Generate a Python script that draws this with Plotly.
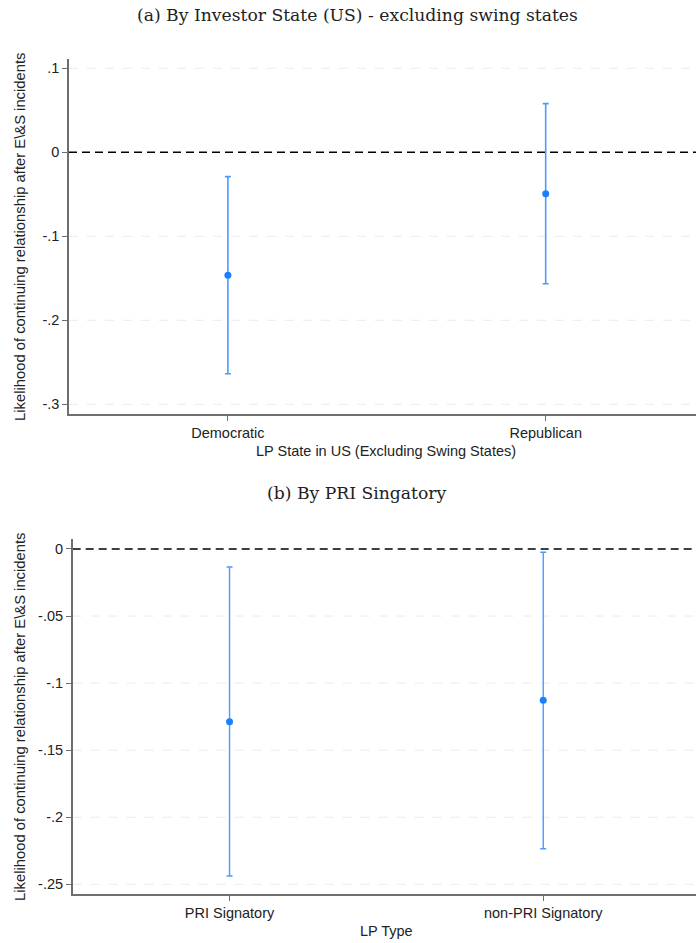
import plotly.graph_objects as go

# ---- Data ----
state_cats = ["Democratic", "Republican"]
state_est = [-0.1464, -0.0493]
state_hi = [-0.0290, 0.0579]
state_lo = [-0.2636, -0.1564]
state_ticks = [0.1, 0.0, -0.1, -0.2, -0.3]
state_ticklabels = [".1", "0", "-.1", "-.2", "-.3"]

pri_cats = ["PRI Signatory", "non-PRI Signatory"]
pri_est = [-0.1288, -0.1128]
pri_hi = [-0.0134, -0.0025]
pri_lo = [-0.2438, -0.2235]
pri_ticks = [0.0, -0.05, -0.10, -0.15, -0.20, -0.25]
pri_ticklabels = ["0", "-.05", "-.1", "-.15", "-.2", "-.25"]

title_a = "(a) By Investor State (US) - excluding swing states"
title_b = "(b) By PRI Singatory"
xtitle_a = "LP State in US (Excluding Swing States)"
xtitle_b = "LP Type"
ytitle = "Likelihood of continuing relationship after E\\&S incidents"

W, H = 696, 943
MARK = "#1a80ff"
BAR = "#4a9bff"
AX = "#6e6e6e"
SANS = "Liberation Sans, Arial, sans-serif"
SERIF = "DejaVu Serif, Liberation Serif, serif"

def px(x):
    return x / W

def py(y):
    return 1 - y / H

fig = go.Figure()

fig.add_trace(go.Scatter(
    x=state_cats, y=state_est, mode="markers",
    marker=dict(color=MARK, size=7),
    error_y=dict(type="data", symmetric=False,
                 array=[h - e for h, e in zip(state_hi, state_est)],
                 arrayminus=[e - l for l, e in zip(state_lo, state_est)],
                 color=BAR, thickness=1.6, width=3),
    xaxis="x", yaxis="y", showlegend=False))

fig.add_trace(go.Scatter(
    x=pri_cats, y=pri_est, mode="markers",
    marker=dict(color=MARK, size=7),
    error_y=dict(type="data", symmetric=False,
                 array=[h - e for h, e in zip(pri_hi, pri_est)],
                 arrayminus=[e - l for l, e in zip(pri_lo, pri_est)],
                 color=BAR, thickness=1.4, width=3),
    xaxis="x2", yaxis="y2", showlegend=False))

common_x = dict(type="category", showgrid=False, zeroline=False,
                showline=True, linecolor=AX, linewidth=1.5,
                ticks="outside", ticklen=5, tickcolor=AX, tickwidth=1.2,
                tickfont=dict(family=SANS, size=14.5, color="#222"),
                fixedrange=True)
common_y = dict(showgrid=False, zeroline=False, showline=True, linecolor=AX, linewidth=1.5,
                ticks="outside", ticklen=5, tickcolor=AX, tickwidth=1.2,
                tickfont=dict(family=SANS, size=14.5, color="#222"))

fig.update_layout(
    width=W, height=H,
    margin=dict(l=0, r=0, t=0, b=0),
    paper_bgcolor="white", plot_bgcolor="white",
    xaxis=dict(domain=[px(69), 1], anchor="y", range=[-0.5, 1.473], **common_x),
    yaxis=dict(domain=[py(414), py(59)], anchor="x", range=[-0.3115, 0.111],
               tickvals=state_ticks, ticktext=state_ticklabels, **common_y),
    xaxis2=dict(domain=[px(72.7), 1], anchor="y2", range=[-0.5, 1.487], **common_x),
    yaxis2=dict(domain=[py(894), py(539.3)], anchor="x2", range=[-0.2572, 0.0072],
                tickvals=pri_ticks, ticktext=pri_ticklabels, **common_y),
)

# grid lines (dashed light grey) and zero reference lines (dashed black)
for xr, yr, ticks in (("x domain", "y", state_ticks), ("x2 domain", "y2", pri_ticks)):
    for t in ticks:
        if t == 0:
            fig.add_shape(type="line", xref=xr, yref=yr, x0=0, x1=1, y0=t, y1=t,
                          line=dict(color="black", width=1.6, dash="8px,5px"), layer="below")
        else:
            fig.add_shape(type="line", xref=xr, yref=yr, x0=0, x1=1, y0=t, y1=t,
                          line=dict(color="#ebebeb", width=1, dash="dash"), layer="below")

ann = []
ann.append(dict(text=title_a, x=px(357), y=py(15), xref="paper", yref="paper",
                xanchor="center", yanchor="middle", showarrow=False,
                font=dict(family=SERIF, size=17.2, color="#222")))
ann.append(dict(text=title_b, x=px(357), y=py(493), xref="paper", yref="paper",
                xanchor="center", yanchor="middle", showarrow=False,
                font=dict(family=SERIF, size=17.2, color="#222")))
ann.append(dict(text=xtitle_a, x=px(386), y=py(451), xref="paper", yref="paper",
                xanchor="center", yanchor="middle", showarrow=False,
                font=dict(family=SANS, size=14.5, color="#222")))
ann.append(dict(text=xtitle_b, x=px(386), y=py(931), xref="paper", yref="paper",
                xanchor="center", yanchor="middle", showarrow=False,
                font=dict(family=SANS, size=14.5, color="#222")))
ann.append(dict(text=ytitle, x=px(20), y=py(237), xref="paper", yref="paper",
                xanchor="center", yanchor="middle", showarrow=False, textangle=-90,
                font=dict(family=SANS, size=14.8, color="#222")))
ann.append(dict(text=ytitle, x=px(20), y=py(717), xref="paper", yref="paper",
                xanchor="center", yanchor="middle", showarrow=False, textangle=-90,
                font=dict(family=SANS, size=14.8, color="#222")))
fig.update_layout(annotations=ann)

fig.write_html("out.html", config={"displayModeBar": False},
               post_script="document.body.style.margin='0';document.body.style.overflow='hidden';")
